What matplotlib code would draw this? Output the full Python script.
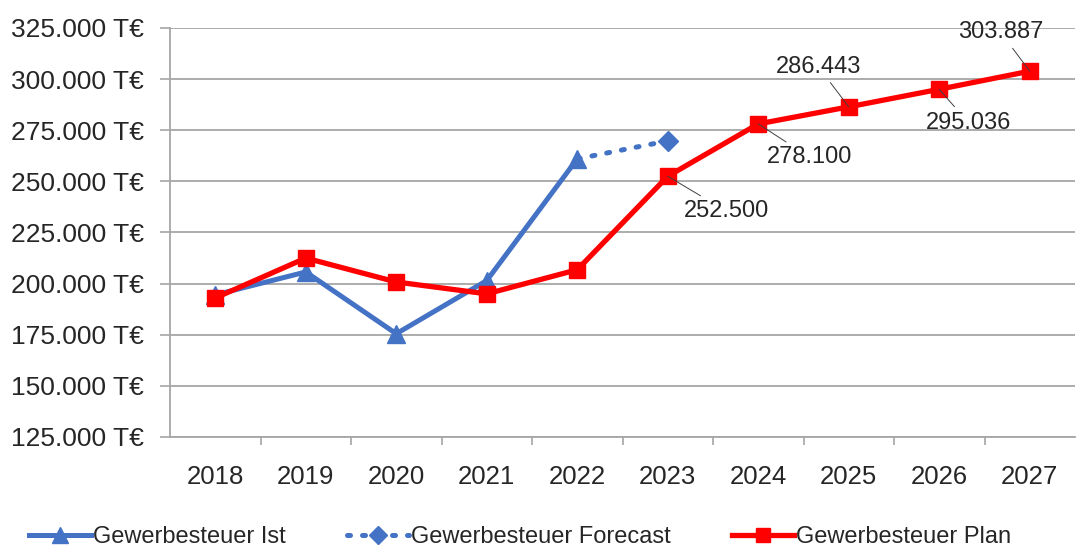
import matplotlib
matplotlib.use("Agg")
import matplotlib.pyplot as plt
from matplotlib.lines import Line2D

years = ["2018", "2019", "2020", "2021", "2022", "2023", "2024", "2025", "2026", "2027"]
ist_values = [194500, 205700, 175500, 201500, 261000]
forecast_years = ["2022", "2023"]
forecast_values = [261000, 269800]
plan_values = [193000, 212500, 200800, 195000, 206800, 252500, 278100, 286443, 295036, 303887]
label_years = ["2023", "2024", "2025", "2026", "2027"]
label_texts = ["252.500", "278.100", "286.443", "295.036", "303.887"]
yticks = [125000, 150000, 175000, 200000, 225000, 250000, 275000, 300000, 325000]

plt.rcParams['font.family'] = ["Liberation Sans", "DejaVu Sans"]

BLUE = "#4472C4"
RED = "#FF0000"
GRID = "#A6A6A6"
TXT = "#262626"
DOTS = (0, (0.6, 2.4))

fig = plt.figure(figsize=(10.77, 5.5), dpi=100)
ax = fig.add_axes([170/1077, 1-437/550, 905/1077, 409/550])

xi = {y: i for i, y in enumerate(years)}
ax.plot([xi[y] for y in years[:len(ist_values)]], ist_values, color=BLUE, lw=3.6,
        marker="^", ms=13, mfc=BLUE, mec=BLUE, zorder=3)
ax.plot([xi[y] for y in forecast_years], forecast_values, color=BLUE, lw=3.6, ls=DOTS,
        dash_capstyle="round", marker="D", ms=10, markevery=[1], mfc=BLUE, mec=BLUE, zorder=3)
ax.plot(range(len(years)), plan_values, color=RED, lw=3.8,
        marker="s", ms=12, mfc=RED, mec=RED, zorder=4)

# value labels with leader lines (offsets in points)
offsets = {"2023": (42, -25), "2024": (37, -24), "2025": (-22, 29), "2026": (21, -24), "2027": (-21, 28)}
for y, t in zip(label_years, label_texts):
    i = xi[y]
    v = plan_values[i]
    dx, dy = offsets[y]
    ax.annotate(t, xy=(i, v), xytext=(dx, dy), textcoords="offset points",
                ha="center", va="center", fontsize=17, color=TXT, zorder=5,
                arrowprops=dict(arrowstyle="-", color="#404040", lw=0.7,
                                shrinkA=2, shrinkB=0))

ax.set_xlim(-0.5, len(years) - 0.5)
ax.set_ylim(yticks[0], yticks[-1])
ax.set_yticks(yticks)
ax.set_yticklabels([f"{v:,.0f}".replace(",", ".") + " T€" for v in yticks])
ax.set_xticks(range(len(years)))
ax.set_xticklabels(years)
ax.set_xticks([i + 0.5 for i in range(len(years) - 1)], minor=True)
ax.tick_params(axis="x", which="major", length=0, pad=20, labelsize=18.5, labelcolor=TXT)
ax.tick_params(axis="x", which="minor", length=6, width=1.2, color=GRID)
ax.tick_params(axis="y", length=7, width=1.2, color=GRID, pad=12, labelsize=19, labelcolor=TXT)
ax.grid(axis="y", color=GRID, lw=1.3)
ax.set_axisbelow(True)
for s in ["top", "right"]:
    ax.spines[s].set_visible(False)
for s in ["left", "bottom"]:
    ax.spines[s].set_color(GRID)
    ax.spines[s].set_linewidth(1.3)

handles = [
    Line2D([], [], color=BLUE, lw=3.6, marker="^", ms=11),
    Line2D([], [], color=BLUE, lw=3.6, ls=DOTS, dash_capstyle="round", marker="D", ms=9),
    Line2D([], [], color=RED, lw=3.8, marker="s", ms=10),
]
fig.legend(handles, ["Gewerbesteuer Ist", "Gewerbesteuer Forecast", "Gewerbesteuer Plan"],
           loc="center", bbox_to_anchor=(0.483, 1-537/550), ncol=3, frameon=False,
           fontsize=17, handlelength=2.6, handletextpad=0.1, columnspacing=2.6,
           labelcolor=TXT)

fig.savefig("out.png", dpi=100)
